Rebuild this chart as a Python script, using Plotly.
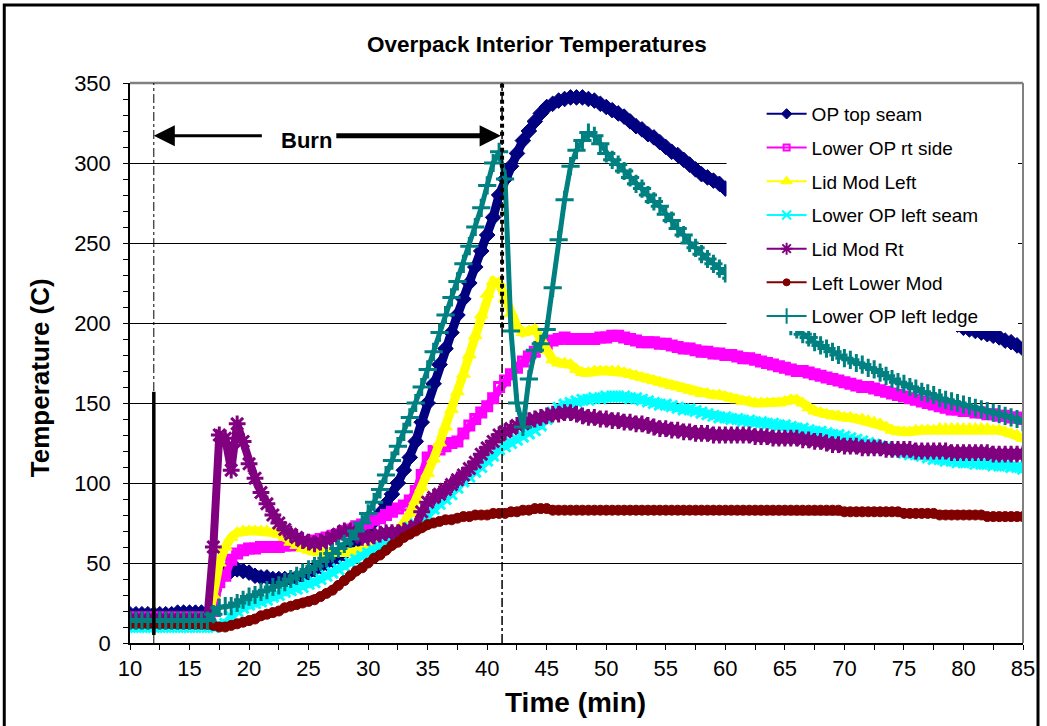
import plotly.graph_objects as go

# Sample times (min)
TIME = [
    10, 10.5, 11, 11.5, 12, 12.5, 13, 13.5, 14, 14.5, 15, 15.5, 16, 16.5,
    17, 17.5, 18, 18.5, 19, 19.5,
    20, 20.5, 21, 21.5, 22, 22.5, 23, 23.5, 24, 24.5,
    25, 25.5, 26, 26.5, 27, 27.5, 28, 28.5, 29, 29.5,
    30, 30.5, 31, 31.5, 32, 32.5, 33, 33.5, 34, 34.5,
    35, 35.5, 36, 36.5, 37, 37.5, 38, 38.5, 39, 39.5,
    40, 40.5, 41, 41.5, 42, 42.5, 43, 43.5, 44, 44.5,
    45, 45.5, 46, 46.5, 47, 47.5, 48, 48.5, 49, 49.5,
    50, 50.5, 51, 51.5, 52, 52.5, 53, 53.5, 54, 54.5,
    55, 55.5, 56, 56.5, 57, 57.5, 58, 58.5, 59, 59.5,
    60, 60.5, 61, 61.5, 62, 62.5, 63, 63.5, 64, 64.5,
    65, 65.5, 66, 66.5, 67, 67.5, 68, 68.5, 69, 69.5,
    70, 70.5, 71, 71.5, 72, 72.5, 73, 73.5, 74, 74.5,
    75, 75.5, 76, 76.5, 77, 77.5, 78, 78.5, 79, 79.5,
    80, 80.5, 81, 81.5, 82, 82.5, 83, 83.5, 84, 84.5,
    85,
]

# Temperatures (C)
OP_TOP_SEAM = [
    18, 18, 18, 18, 18, 18, 18, 18, 19, 19, 19, 19, 19, 19,
    22, 40, 44, 45, 46, 45,
    44, 42, 41, 41, 40, 40, 40, 40, 41, 42,
    44, 46, 48, 50, 52, 54, 56, 59, 63, 67,
    71, 76, 81, 87, 93, 100, 108, 116, 126, 138,
    150, 162, 174, 184, 194, 205, 215, 225, 235, 245,
    255, 266, 280, 290, 298, 306, 314, 320, 326, 331,
    335, 337, 339, 340, 341, 341, 341, 340, 339, 337,
    335, 333, 331, 329, 326, 323, 321, 318, 316, 313,
    310, 307, 305, 302, 299, 296, 293, 291, 289, 287,
    284, 282, 280, 278, 275, 273, 271, 269, 266, 264,
    262, 260, 257, 255, 253, 251, 248, 246, 244, 242,
    240, 238, 235, 233, 231, 229, 227, 225, 222, 220,
    218, 216, 214, 212, 210, 208, 205, 203, 201, 199,
    197, 196, 195, 194, 193, 192, 191, 189, 188, 186,
    184,
]

LOWER_OP_RT_SIDE = [
    16, 16, 16, 16, 16, 16, 16, 16, 16, 16, 16, 16, 16, 16,
    20, 38, 42, 52, 56, 58,
    59, 59, 60, 60, 60, 60, 61, 61, 62, 62,
    63, 64, 65, 66, 67, 68, 70, 71, 73, 74,
    75, 77, 78, 80, 82, 84, 86, 89, 95, 105,
    116, 120, 121, 123, 125, 126, 131, 136, 140, 144,
    148, 153, 160, 164, 168, 172, 176, 179, 182, 185,
    187, 189, 190, 191, 190, 190, 190, 190, 190, 191,
    191, 192, 192, 191, 190, 189, 188, 188, 188, 187,
    187, 186, 185, 184, 184, 183, 182, 182, 181, 181,
    180, 180, 179, 178, 178, 177, 176, 175, 174, 173,
    172, 171, 170, 170, 169, 168, 167, 166, 165, 164,
    163, 162, 161, 160, 160, 159, 158, 157, 156, 155,
    154, 153, 152, 151, 150, 149, 148, 147, 146, 146,
    145, 145, 144, 144, 143, 143, 142, 142, 141, 141,
    140,
]

LID_MOD_LEFT = [
    13, 13, 13, 13, 13, 13, 13, 13, 13, 13, 13, 13, 13, 13,
    30, 50, 60, 66, 69, 70,
    70, 70, 70, 70, 69, 68, 66, 63, 61, 59,
    58, 57, 57, 56, 56, 56, 56, 56, 57, 58,
    59, 60, 61, 63, 66, 70, 75, 81, 89, 97,
    106, 115, 125, 135, 146, 157, 168, 180, 192, 205,
    218, 226, 225, 215, 206, 198, 194, 195, 196, 190,
    183, 177, 175, 175, 174, 171, 169, 169, 170, 170,
    170, 170, 170, 169, 168, 167, 166, 165, 164, 163,
    162, 161, 160, 159, 158, 157, 156, 156, 155, 155,
    154, 153, 152, 151, 151, 150, 150, 150, 150, 150,
    151, 152, 152, 150, 147, 145, 144, 143, 142, 142,
    141, 141, 140, 140, 139, 138, 137, 135, 133, 132,
    132, 132, 133, 133, 133, 133, 134, 134, 134, 134,
    134, 134, 134, 134, 134, 133, 133, 132, 131, 130,
    128,
]

LOWER_OP_LEFT_SEAM = [
    10, 10, 10, 10, 10, 10, 10, 10, 10, 10, 10, 10, 10, 10,
    10, 11, 12, 16, 20, 22,
    24, 25, 26, 27, 29, 30, 32, 33, 34, 35,
    37, 38, 40, 42, 44, 46, 48, 50, 52, 54,
    56, 58, 60, 62, 65, 68, 70, 72, 74, 76,
    80, 84, 87, 90, 93, 97, 101, 104, 107, 110,
    114, 117, 121, 123, 125, 127, 129, 131, 133, 136,
    140, 144, 147, 149, 150, 151, 152, 152, 153, 153,
    154, 154, 154, 154, 153, 153, 152, 151, 150, 149,
    149, 148, 147, 146, 146, 145, 144, 143, 142, 141,
    141, 140, 140, 139, 139, 138, 138, 137, 137, 136,
    136, 135, 134, 134, 133, 132, 132, 131, 130, 130,
    129, 128, 127, 126, 125, 124, 123, 122, 121, 120,
    119, 118, 118, 117, 116, 115, 115, 114, 114, 113,
    113, 113, 112, 112, 112, 111, 111, 111, 110, 110,
    109,
]

LID_MOD_RT = [
    15, 15, 15, 15, 15, 15, 15, 15, 15, 15, 15, 15, 15, 15,
    60, 130, 128, 108, 137, 126,
    112, 103, 94, 87, 80, 75, 71, 68, 66, 64,
    63, 62, 63, 64, 66, 68, 70, 70, 68, 66,
    66, 67, 68, 69, 69, 69, 70, 71, 73, 82,
    88, 91, 93, 96, 99, 102, 105, 109, 113, 118,
    122, 126, 130, 132, 134, 136, 137, 139, 140, 141,
    142, 143, 143, 144, 144, 143, 142, 141, 141, 140,
    140, 139, 139, 138, 138, 137, 137, 136, 135, 134,
    134, 133, 133, 132, 132, 131, 131, 131, 130, 130,
    130, 130, 130, 130, 130, 129, 129, 129, 128, 128,
    128, 128, 128, 127, 127, 126, 126, 125, 124, 124,
    123, 123, 123, 122, 122, 122, 122, 121, 121, 121,
    121, 121, 120, 120, 120, 120, 120, 120, 119, 119,
    119, 119, 119, 119, 119, 118, 118, 118, 118, 118,
    118,
]

LEFT_LOWER_MOD = [
    12, 12, 12, 12, 12, 12, 12, 12, 12, 12, 12, 12, 12, 12,
    11, 10, 10, 11, 12, 13,
    14, 15, 17, 18, 19, 20, 22, 23, 24, 25,
    26, 27, 29, 31, 33, 36, 39, 42, 45, 47,
    50, 53, 55, 58, 61, 63, 66, 68, 70, 72,
    74, 75, 76, 77, 77, 78, 79, 79, 80, 80,
    80, 81, 81, 81, 82, 82, 83, 83, 84, 84,
    84, 83, 83, 83, 83, 83, 83, 83, 83, 83,
    83, 83, 83, 83, 83, 83, 83, 83, 83, 83,
    83, 83, 83, 83, 83, 83, 83, 83, 83, 83,
    83, 83, 83, 83, 83, 83, 83, 83, 83, 83,
    83, 83, 83, 83, 83, 83, 83, 83, 83, 83,
    82, 82, 82, 82, 82, 82, 82, 82, 82, 82,
    81, 81, 81, 81, 81, 81, 80, 80, 80, 80,
    80, 80, 80, 80, 79, 79, 79, 79, 79, 79,
    79,
]

LOWER_OP_LEFT_LEDGE = [
    14, 14, 14, 14, 14, 14, 14, 14, 14, 14, 14, 14, 14, 14,
    18, 22, 23, 23, 25, 27,
    29, 30, 32, 33, 35, 36, 38, 40, 42, 44,
    46, 48, 51, 53, 56, 59, 62, 65, 70, 75,
    81, 88, 96, 105, 114, 123, 132, 141, 150, 160,
    171, 182, 194, 205, 216, 226, 237, 248, 260, 272,
    286, 300, 307, 290, 195, 150, 135, 165, 183, 187,
    196, 222, 252, 277, 298, 308, 314, 319, 317, 312,
    306, 302, 299, 295, 291, 287, 284, 280, 276, 273,
    268, 264, 259, 255, 250, 247, 243, 240, 237, 234,
    231, 228, 225, 222, 219, 216, 213, 210, 207, 204,
    201, 198, 196, 193, 191, 188, 186, 184, 182, 180,
    178, 177, 175, 174, 172, 171, 169, 167, 165, 163,
    162, 160, 159, 157, 156, 155, 153, 152, 151, 150,
    149, 148, 147, 146, 145, 144, 143, 142, 141, 140,
    138,
]

# Burn period markers (min) and arrow height (C)
BURN_START = 12.0
BURN_END = 41.25
BURN_ARROW_Y = 317

FONT = "Liberation Sans, Arial, sans-serif"

# name, values, colour, marker symbol, marker size, marker outline, band width
series = [
    ("OP top seam", OP_TOP_SEAM, "#000080", "diamond", 12, 1, 9),
    ("Lower OP rt side", LOWER_OP_RT_SIDE, "#FF00FF", "square-open", 9, 3, 8),
    ("Lid Mod Left", LID_MOD_LEFT, "#FFFF00", "triangle-up", 12, 1, 9),
    ("Lower OP left seam", LOWER_OP_LEFT_SEAM, "#00FFFF", "x-thin", 11, 3, 8),
    ("Lid Mod Rt", LID_MOD_RT, "#800080", "asterisk", 14, 3, 8),
    ("Left Lower Mod", LEFT_LOWER_MOD, "#800000", "circle", 10, 1, 8),
    ("Lower OP left ledge", LOWER_OP_LEFT_LEDGE, "#008080", "cross-thin", 13, 3, 5),
]

LEGEND_MARKER = {"diamond": 8, "square-open": 6, "triangle-up": 10, "x-thin": 9,
                 "asterisk": 10, "circle": 7, "cross-thin": 11}

fig = go.Figure()
for name, vals, color, symbol, size, mlw, lw in series:
    # dense sampled band
    fig.add_trace(go.Scatter(
        x=TIME, y=vals, name=name, mode="lines+markers",
        legendgroup=name, showlegend=False,
        line=dict(color=color, width=lw),
        marker=dict(symbol=symbol, size=size, color=color,
                    line=dict(color=color, width=mlw)),
    ))
    # legend key drawn with the thin line style
    fig.add_trace(go.Scatter(
        x=[None], y=[None], name=name, mode="lines+markers",
        legendgroup=name, showlegend=True, hoverinfo="skip",
        line=dict(color=color, width=2),
        marker=dict(symbol=symbol, size=LEGEND_MARKER[symbol], color=color,
                    line=dict(color=color, width=2 if "open" in symbol or "thin" in symbol or symbol == "asterisk" else 1)),
    ))

axis_common = dict(showline=True, linecolor="black", linewidth=1.5,
                   tickcolor="black", tickwidth=1, ticklen=5,
                   zeroline=False, tickfont=dict(family=FONT, size=22, color="black"))

fig.update_layout(
    width=1047, height=726,
    margin=dict(l=130, r=22, t=83, b=83),
    paper_bgcolor="white", plot_bgcolor="white",
    showlegend=True,
    xaxis=dict(range=[10, 85], tick0=10, dtick=5, ticks="outside", showgrid=False,
               minor=dict(dtick=2.5, ticks="outside", ticklen=5, tickcolor="black", showgrid=False),
               **axis_common),
    yaxis=dict(range=[0, 350], tick0=0, dtick=50, ticks="outside", showgrid=True,
               gridcolor="black", gridwidth=1, ticklabelstandoff=8,
               minor=dict(dtick=10, ticks="outside", ticklen=5, tickcolor="black", showgrid=False),
               **axis_common),
    xaxis2=dict(overlaying="x", anchor="y", range=[10, 85], tick0=10, dtick=5,
                ticks="inside", ticklen=5, tickcolor="black", showticklabels=False,
                showline=False, showgrid=False, zeroline=False,
                minor=dict(dtick=2.5, ticks="inside", ticklen=5, tickcolor="black", showgrid=False)),
    yaxis2=dict(overlaying="y", anchor="x", range=[0, 350], tick0=0, dtick=50,
                ticks="inside", ticklen=5, tickcolor="black", showticklabels=False,
                showline=False, showgrid=False, zeroline=False,
                minor=dict(dtick=10, ticks="inside", ticklen=5, tickcolor="black", showgrid=False)),
    legend=dict(x=0.7073, y=0.9786, xanchor="left", yanchor="top",
                bgcolor="rgba(0,0,0,0)", borderwidth=0, itemwidth=40,
                tracegroupgap=6, font=dict(family=FONT, size=19, color="black"),
                itemclick=False, itemdoubleclick=False),
)

# white legend panel that covers the plot area beneath it
fig.add_shape(type="rect", xref="paper", yref="paper", x0=0.668, x1=0.9944, y0=0.557, y1=0.984,
              fillcolor="white", line=dict(width=0), layer="above")

# plot-area border (top and right)
fig.add_shape(type="line", xref="paper", yref="paper", x0=0, x1=1, y0=1, y1=1,
              line=dict(color="#808080", width=2.5), layer="above")
fig.add_shape(type="line", xref="paper", yref="paper", x0=1, x1=1, y0=0, y1=1,
              line=dict(color="#808080", width=2), layer="above")

# outer chart frame
fig.add_shape(type="rect", xref="paper", yref="paper", x0=-0.1408, x1=1.0168, y0=-0.25, y1=1.1393,
              line=dict(color="black", width=3), fillcolor="rgba(0,0,0,0)", layer="above")

# burn start / end markers
fig.add_shape(type="line", x0=BURN_START, x1=BURN_START, y0=0, y1=350,
              line=dict(color="black", width=1, dash="dashdot"), layer="above")
fig.add_shape(type="line", x0=BURN_START, x1=BURN_START, y0=5, y1=157,
              line=dict(color="black", width=3.5), layer="above")
fig.add_shape(type="line", x0=BURN_END, x1=BURN_END, y0=0, y1=350,
              line=dict(color="black", width=1.5, dash="dashdot"), layer="above")
fig.add_shape(type="line", x0=BURN_END, x1=BURN_END, y0=197, y1=350,
              line=dict(color="black", width=4, dash="dot"), layer="above")

# burn arrows
fig.add_annotation(x=BURN_START, y=BURN_ARROW_Y, ax=21.2, ay=BURN_ARROW_Y, axref="x", ayref="y",
                   xref="x", yref="y", text="", showarrow=True, arrowhead=2,
                   arrowsize=1.4, arrowwidth=3, arrowcolor="black", standoff=0, startstandoff=0)
fig.add_annotation(x=BURN_END - 0.1, y=BURN_ARROW_Y, ax=27.2, ay=BURN_ARROW_Y, axref="x", ayref="y",
                   xref="x", yref="y", text="", showarrow=True, arrowhead=2,
                   arrowsize=0.85, arrowwidth=5, arrowcolor="black", standoff=0, startstandoff=0)
fig.add_annotation(x=24.8, y=314, xref="x", yref="y", text="<b>Burn</b>", showarrow=False,
                   font=dict(family=FONT, size=22, color="black"))

# titles
fig.add_annotation(x=0.4559, y=1.0679, xref="paper", yref="paper", text="<b>Overpack Interior Temperatures</b>",
                   showarrow=False, xanchor="center", yanchor="middle",
                   font=dict(family=FONT, size=22.5, color="black"))
fig.add_annotation(x=-0.1006, y=0.4732, xref="paper", yref="paper", text="<b>Temperature (C)</b>",
                   showarrow=False, textangle=-90, xanchor="center", yanchor="middle",
                   font=dict(family=FONT, size=26, color="black"))
fig.add_annotation(x=0.4994, y=-0.1071, xref="paper", yref="paper", text="<b>Time (min)</b>",
                   showarrow=False, xanchor="center", yanchor="middle",
                   font=dict(family=FONT, size=28, color="black"))

fig.write_html("out.html")
